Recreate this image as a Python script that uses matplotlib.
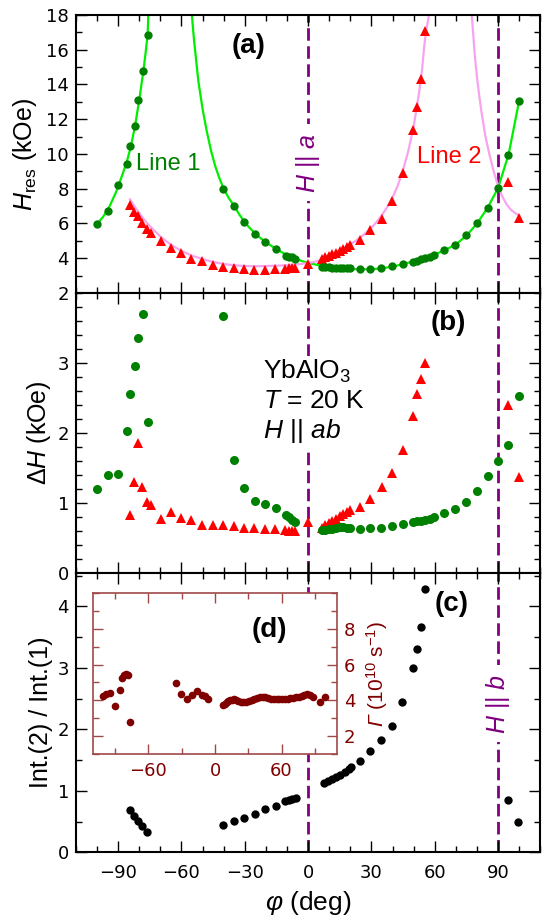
import matplotlib.pyplot as plt
from matplotlib.ticker import MultipleLocator

plt.rcParams['font.family'] = 'Liberation Sans'
plt.rcParams['mathtext.fontset'] = 'custom'
plt.rcParams['mathtext.rm'] = 'Liberation Sans'
plt.rcParams['mathtext.it'] = 'Liberation Sans:italic'
plt.rcParams['mathtext.bf'] = 'Liberation Sans:bold'
# used only to get an italic capital Gamma
plt.rcParams['mathtext.sf'] = 'Liberation Sans:italic'

# ---- data ----
# green circles (line 1), shared angles for panels (a) and (b)
phi_g = [-100, -95, -90, -86, -84.4, -82.2, -80.4, -78.2, -76,
         -40.2, -35.2, -30.3, -25.3, -20.2, -15.3, -10.7, -9.1, -7.6, -6,
         6.5, 8.2, 9.9, 11.5, 13.2, 14.9, 16.6, 18.3, 20, 24.5, 29.5, 34.6,
         39.7, 44.7, 49.5, 51.5, 53.5, 55.5, 57.5, 59.5, 64.2, 69.4, 74.9,
         79.9, 85, 89.9, 94.8, 99.7]
hres_g = [5.97, 6.72, 8.2, 9.42, 10.48, 11.63, 13.11, 14.78, 16.87,
          8.0, 7.02, 6.07, 5.42, 4.93, 4.54, 4.14, 4.09, 4.05, 3.98,
          3.51, 3.49, 3.47, 3.46, 3.45, 3.44, 3.43, 3.42, 3.41, 3.37, 3.37, 3.44,
          3.53, 3.66, 3.8, 3.86, 3.93, 3.99, 4.06, 4.17, 4.47, 4.77, 5.32,
          6.01, 6.87, 8.06, 9.96, 13.07]
dh_g = [1.19, 1.39, 1.41, 2.02, 2.55, 2.95, 3.35, 3.70, 2.16,
        3.67, 1.61, 1.21, 1.03, 0.98, 0.93, 0.83, 0.79, 0.755, 0.72,
        0.61, 0.61, 0.62, 0.62, 0.63, 0.645, 0.645, 0.64, 0.63, 0.62, 0.63, 0.64,
        0.67, 0.69, 0.72, 0.73, 0.74, 0.75, 0.77, 0.79, 0.85, 0.91, 1.01,
        1.17, 1.38, 1.59, 1.83, 2.53]

# red triangles (line 2)
phi_r = [-84.4, -82.3, -80.6, -78.5, -76.4, -74.5, -69.8, -65, -60.1, -55.3,
         -50.1, -45.1, -40.3, -35.2, -30.3, -25.4, -20.5, -15.6, -11, -9, -7.5, -6,
         0,
         6.5, 8.2, 9.9, 11.5, 13.2, 14.9, 16.6, 18.3, 20, 24.6, 29.4, 34.8,
         39.9, 44.7, 49.7, 51.5, 53.4, 55.5, 94.8, 99.7]
hres_r = [7.06, 6.68, 6.43, 6.05, 5.67, 5.43, 5.01, 4.57, 4.28, 3.96,
          3.84, 3.61, 3.51, 3.42, 3.36, 3.32, 3.32, 3.36, 3.40, 3.41, 3.42, 3.42,
          3.67,
          3.95, 4.05, 4.15, 4.24, 4.33, 4.42, 4.51, 4.62, 4.76, 5.03, 5.6, 6.27,
          7.3, 8.89, 11.38, 12.69, 14.3, 17.08, 8.41, 6.30]
dh_r = [0.83, 1.30, 1.85, 1.22, 1.01, 0.97, 0.77, 0.87, 0.78, 0.745,
        0.68, 0.68, 0.68, 0.66, 0.63, 0.63, 0.62, 0.62, 0.61, 0.60, 0.60, 0.59,
        0.72,
        0.64, 0.68, 0.71, 0.74, 0.77, 0.81, 0.84, 0.87, 0.90, 0.94, 1.05, 1.22,
        1.43, 1.76, 2.24, 2.55, 2.77, 3.0, 2.40, 1.37]

# fitted curves in panel (a), each branch separately
fit1a_phi = [-100, -97, -94, -91, -88, -86, -84, -82, -80, -78, -77, -76, -75.7, -75.4]
fit1a_h = [5.97, 6.4, 7.0, 7.8, 8.8, 9.5, 10.4, 11.6, 13.1, 14.8, 15.8, 16.9, 18.0, 19.2]
fit1b_phi = [-56, -55, -54, -52, -50, -48, -46, -44, -42, -40, -37.5, -35, -32.5,
             -30, -27.5, -25, -22.5, -20, -17.5, -15, -12.5, -10, -7.5, -5, -2.5,
             0, 5, 10, 15, 20, 25, 30, 35, 40, 45, 50, 55, 60, 65, 70, 75, 80,
             85, 90, 95, 100]
fit1b_h = [20.5, 17.9, 16.5, 14.2, 12.6, 11.3, 10.2, 9.3, 8.6, 8.0, 7.45, 7.0, 6.5,
           6.07, 5.72, 5.42, 5.15, 4.93, 4.72, 4.53, 4.35, 4.17, 4.03, 3.93, 3.82,
           3.73, 3.6, 3.5, 3.43, 3.38, 3.36, 3.37, 3.42, 3.52, 3.66, 3.83, 4.0,
           4.22, 4.48, 4.8, 5.3, 6.0, 6.9, 8.05, 10.0, 13.1]
fit2a_phi = [-84.4, -82, -80, -77.5, -75, -72.5, -70, -65, -60, -55, -50, -45, -40,
             -35, -30, -25, -20, -15, -10, -5, 0, 5, 10, 12.5, 15, 17.5, 20, 22.5,
             25, 27.5, 30, 32.5, 35, 37.5, 40, 42.5, 45, 47.5, 50, 52, 53, 54,
             55, 56, 57, 58]
fit2a_h = [7.39, 6.95, 6.6, 6.2, 5.85, 5.55, 5.25, 4.78, 4.42, 4.15, 3.95, 3.79,
           3.67, 3.59, 3.55, 3.54, 3.55, 3.57, 3.6, 3.65, 3.72, 3.85, 4.1, 4.28,
           4.45, 4.62, 4.8, 5.0, 5.22, 5.48, 5.75, 6.1, 6.5, 6.95, 7.5, 8.2, 9.1,
           10.2, 11.6, 13.1, 13.9, 14.9, 16.2, 17.2, 17.8, 19.0]
fit2b_phi = [77, 77.5, 78, 79, 80, 81, 82, 84, 86, 88, 90, 92, 94, 96, 98, 100]
fit2b_h = [19.0, 18.0, 17.2, 15.6, 14.4, 13.4, 12.5, 11.0, 9.9, 8.95, 8.15, 7.55,
           7.1, 6.8, 6.6, 6.45]

# panel (c): intensity ratio
phi_c = [-84.4, -82.6, -80.8, -78.7, -76.2,
         -40.4, -35.3, -30.3, -25.3, -20.2, -15.4, -10.8, -9.1, -7.6, -5.9,
         7.4, 9.5, 11.3, 13.2, 15.3, 17.4, 19.2, 20.5, 24.8, 29.5, 34.7, 39.7,
         44.6, 49.6, 51.5, 53.6, 55.5, 94.6, 99.6]
ratio_c = [0.685, 0.60, 0.51, 0.425, 0.34,
           0.45, 0.51, 0.565, 0.63, 0.70, 0.76, 0.835, 0.86, 0.875, 0.89,
           1.133, 1.166, 1.198, 1.23, 1.263, 1.307, 1.35, 1.383, 1.49, 1.648,
           1.826, 2.058, 2.438, 3.006, 3.30, 3.666, 4.28, 0.852, 0.49]

# inset (d): relaxation rate
phi_d = [-100.6, -97.9, -94.9, -90.1, -85.9, -84, -82, -80, -78.1, -76.6,
         -35.5, -30.7, -25.6, -21, -16.2, -12, -9, -6,
         7.5, 9, 10.5, 12, 13.5, 15, 17, 19, 21, 23, 25.5, 28, 30.5, 33, 35.5,
         38, 40.5, 43, 45.5, 48, 50.5, 53, 55.5, 58, 60.5, 63, 65.5, 68, 70.5,
         73, 75.5, 78, 80.5, 83, 85.5, 88, 94.5, 99.5]
gamma_d = [4.24, 4.34, 4.43, 3.68, 4.6, 5.27, 5.4, 5.5, 5.44, 2.77,
           4.99, 4.34, 4.1, 4.28, 4.52, 4.32, 4.22, 4.05,
           3.72, 3.8, 3.88, 3.95, 4.0, 4.04, 4.06, 4.02, 3.96, 3.9, 3.88, 3.9,
           3.96, 4.02, 4.06, 4.13, 4.18, 4.2, 4.18, 4.14, 4.09, 4.07, 4.07, 4.07,
           4.07, 4.08, 4.1, 4.11, 4.14, 4.18, 4.2, 4.22, 4.3, 4.34, 4.3, 4.2,
           3.9, 4.18]

purple = '#800080'
dgreen = '#008000'
dred = '#800000'
tick_font = 'DejaVu Sans'

fig = plt.figure(figsize=(5.42, 9.24), dpi=100)
L, W = 0.140, 0.857
ax_a = fig.add_axes([L, 0.6829, W, 0.3009])
ax_b = fig.add_axes([L, 0.3804, W, 0.3025])
ax_c = fig.add_axes([L, 0.0774, W, 0.3030])

for ax in (ax_a, ax_b, ax_c):
    ax.set_xlim(-110, 110)
    ax.xaxis.set_major_locator(MultipleLocator(30))
    ax.xaxis.set_minor_locator(MultipleLocator(10))
    ax.tick_params(which='both', direction='in', top=True, right=True,
                   width=1.0, labelsize=13)
    ax.tick_params(which='major', length=8)
    ax.tick_params(which='minor', length=4)
    ax.tick_params(axis='x', pad=8)
    ax.tick_params(axis='y', pad=5)
    for s in ax.spines.values():
        s.set_linewidth(1.5)
    for xv in (0, 90):
        ax.axvline(xv, color=purple, lw=2, dashes=(4.5, 2), zorder=1)

ax_a.tick_params(labelbottom=False)
ax_b.tick_params(labelbottom=False)

# (a)
ax_a.plot(fit1a_phi, fit1a_h, color='#00ee00', lw=1.6, zorder=2)
ax_a.plot(fit1b_phi, fit1b_h, color='#00ee00', lw=1.6, zorder=2)
ax_a.plot(fit2a_phi, fit2a_h, color='#f9a3f0', lw=1.6, zorder=2)
ax_a.plot(fit2b_phi, fit2b_h, color='#f9a3f0', lw=1.6, zorder=2)
ax_a.plot(phi_r, hres_r, '^', color='red', ms=6.5, mew=0, zorder=3)
ax_a.plot(phi_g, hres_g, 'o', color=dgreen, ms=6, mew=0, zorder=4)
ax_a.set_ylim(2, 18)
ax_a.yaxis.set_major_locator(MultipleLocator(2))
ax_a.yaxis.set_minor_locator(MultipleLocator(1))
ax_a.set_ylabel('$H_{\\rm res}$ (kOe)', fontsize=18, labelpad=5)
ax_a.text(-81.5, 9.4, 'Line 1', color=dgreen, fontsize=17, va='center')
ax_a.text(51.5, 9.83, 'Line 2', color='red', fontsize=17, va='center')
ax_a.text(-28, 16.2, '(a)', fontsize=20, fontweight='bold', ha='center', va='center')
ax_a.text(0, 9.5, '$H$ || $a$', color=purple, fontsize=18, rotation=90,
          ha='center', va='center', zorder=2,
          bbox=dict(facecolor='white', edgecolor='none', pad=6))

# (b)
ax_b.plot(phi_r, dh_r, '^', color='red', ms=6.5, mew=0, zorder=3)
ax_b.plot(phi_g, dh_g, 'o', color=dgreen, ms=6.5, mew=0, zorder=4)
ax_b.set_ylim(0, 4)
ax_b.set_yticks([0, 1, 2, 3])
ax_b.yaxis.set_minor_locator(MultipleLocator(0.2))
ax_b.set_ylabel('$\\Delta H$ (kOe)', fontsize=18, labelpad=3)
ax_b.text(66.5, 3.57, '(b)', fontsize=20, fontweight='bold', ha='center', va='center')
ax_b.text(-21.5, 2.45, 'YbAlO$_3$\n$T$ = 20 K\n$H$ || $ab$', fontsize=19,
          ha='left', va='center', linespacing=1.2, zorder=2,
          bbox=dict(facecolor='white', edgecolor='none', pad=2))

# (c)
ax_c.plot(phi_c, ratio_c, 'o', color='black', ms=6, mew=0, zorder=3)
ax_c.set_ylim(0, 4.55)
ax_c.yaxis.set_major_locator(MultipleLocator(1))
ax_c.yaxis.set_minor_locator(MultipleLocator(0.5))
ax_c.set_ylabel('Int.(2) / Int.(1)', fontsize=18, labelpad=3)
ax_c.set_xlabel('$\\varphi$ (deg)', fontsize=19, labelpad=5)
ax_c.text(68, 4.04, '(c)', fontsize=20, fontweight='bold', ha='center', va='center')
ax_c.text(90, 2.42, '$H$ || $b$', color=purple, fontsize=18, rotation=90,
          ha='center', va='center', zorder=2,
          bbox=dict(facecolor='white', edgecolor='none', pad=6))

# (d) inset
ec = '#a04848'
ax_d = fig.add_axes([0.1716, 0.1840, 0.4502, 0.1742])
ax_d.set_facecolor('white')
ax_d.plot(phi_d, gamma_d, 'o', color=dred, ms=5.5, mew=0)
ax_d.set_xlim(-110, 110)
ax_d.set_ylim(1, 10)
ax_d.xaxis.set_major_locator(MultipleLocator(60))
ax_d.xaxis.set_minor_locator(MultipleLocator(30))
ax_d.set_yticks([2, 4, 6, 8])
ax_d.yaxis.set_minor_locator(MultipleLocator(1))
ax_d.tick_params(which='both', direction='in', top=True, left=True, right=True,
                 labelleft=False, labelright=True, color=ec, labelcolor=dred,
                 labelsize=13, width=1.0)
ax_d.tick_params(which='major', length=7)
ax_d.tick_params(which='minor', length=4)
ax_d.tick_params(axis='x', pad=6)
ax_d.tick_params(axis='y', pad=5)
for s in ax_d.spines.values():
    s.set_color(ec)
    s.set_linewidth(1.2)
ax_d.yaxis.set_label_position('right')
ax_d.set_ylabel('$\\mathsf{\\Gamma}$ (10$^{10}$ s$^{-1}$)', color=dred, fontsize=15,
                rotation=90, labelpad=6)
ax_d.text(48.7, 7.92, '(d)', fontsize=20, fontweight='bold', ha='center', va='center')

for ax in (ax_a, ax_b, ax_c, ax_d):
    for lab in ax.get_xticklabels() + ax.get_yticklabels():
        lab.set_fontfamily(tick_font)

fig.savefig('out.png', dpi=100)
